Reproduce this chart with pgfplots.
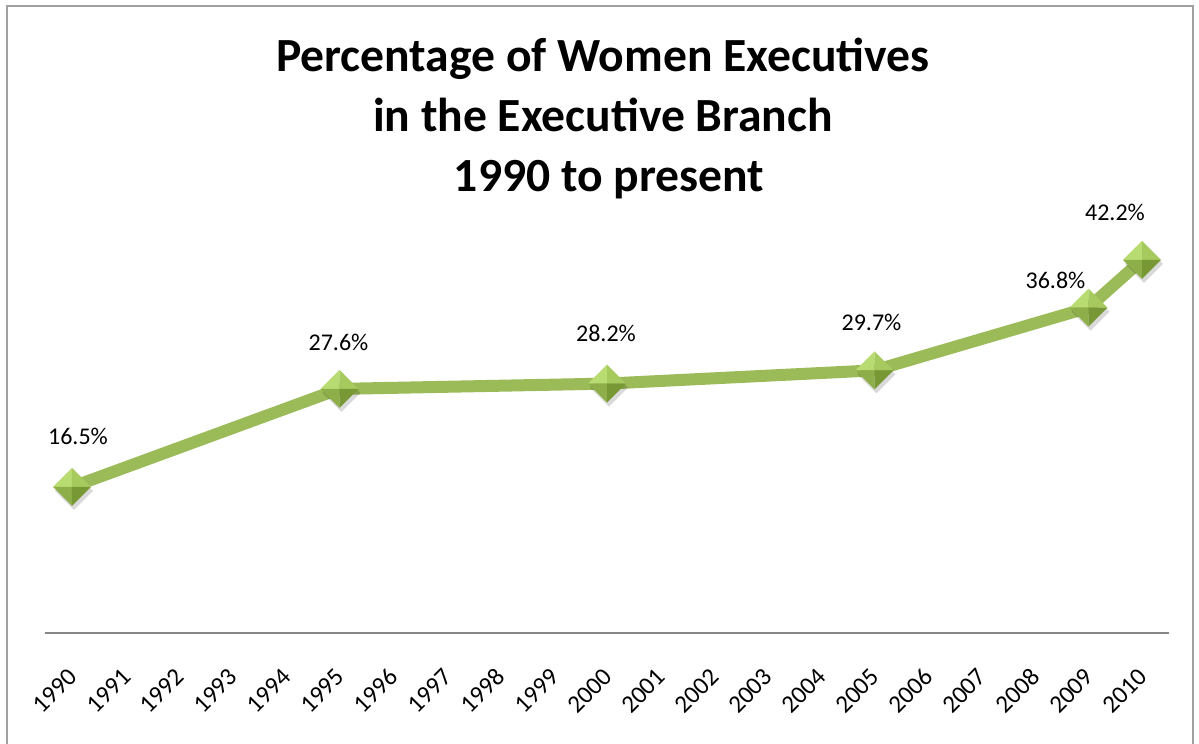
\documentclass[border=0pt]{standalone}
\usepackage{fontspec}
\setmainfont{Carlito}
\usepackage{pgfplots}
\pgfplotsset{compat=1.18}
\definecolor{lgreen}{HTML}{9BBB59}
\definecolor{axgray}{HTML}{868686}
\definecolor{framegray}{HTML}{A0A0A0}
\definecolor{fUL}{HTML}{B9DC72}
\definecolor{fUR}{HTML}{A6CA5E}
\definecolor{fLL}{HTML}{8DAE48}
\definecolor{fLR}{HTML}{789835}
\pgfdeclareplotmark{pyr}{%
  \pgfsetfillcolor{black}\pgfsetfillopacity{0.15}%
  \pgfpathmoveto{\pgfqpoint{1pt}{7.5pt}}%
  \pgfpathlineto{\pgfqpoint{10.5pt}{-2pt}}%
  \pgfpathlineto{\pgfqpoint{1pt}{-11.5pt}}%
  \pgfpathlineto{\pgfqpoint{-8.5pt}{-2pt}}%
  \pgfpathclose\pgfusepath{fill}%
  \pgfsetfillopacity{1}%
  \pgfsetfillcolor{fUL}%
  \pgfpathmoveto{\pgfqpoint{0pt}{9.5pt}}\pgfpathlineto{\pgfqpoint{-9.5pt}{0pt}}\pgfpathlineto{\pgfqpoint{0pt}{0pt}}\pgfpathclose\pgfusepath{fill}%
  \pgfsetfillcolor{fUR}%
  \pgfpathmoveto{\pgfqpoint{0pt}{9.5pt}}\pgfpathlineto{\pgfqpoint{9.5pt}{0pt}}\pgfpathlineto{\pgfqpoint{0pt}{0pt}}\pgfpathclose\pgfusepath{fill}%
  \pgfsetfillcolor{fLL}%
  \pgfpathmoveto{\pgfqpoint{0pt}{-9.5pt}}\pgfpathlineto{\pgfqpoint{-9.5pt}{0pt}}\pgfpathlineto{\pgfqpoint{0pt}{0pt}}\pgfpathclose\pgfusepath{fill}%
  \pgfsetfillcolor{fLR}%
  \pgfpathmoveto{\pgfqpoint{0pt}{-9.5pt}}\pgfpathlineto{\pgfqpoint{9.5pt}{0pt}}\pgfpathlineto{\pgfqpoint{0pt}{0pt}}\pgfpathclose\pgfusepath{fill}%
}
\begin{document}
\begin{tikzpicture}[x=0.5pt,y=0.5pt]
\useasboundingbox (0,0) rectangle (1199,-744);
\draw[framegray, line width=1pt] (7,-6) rectangle (1193,-800);
\node[anchor=base, font=\fontsize{23.8}{28}\selectfont\bfseries] at (603,-71) {Percentage of Women Executives};
\node[anchor=base, font=\fontsize{23.8}{28}\selectfont\bfseries] at (603,-131) {in the Executive Branch};
\node[anchor=base, font=\fontsize{23.8}{28}\selectfont\bfseries] at (609,-191) {1990 to present};
\begin{axis}[
  at={(22.625pt,-316.35pt)}, anchor=south west,
  scale only axis, width=561.75pt, height=198.75pt,
  xmin=-0.5, xmax=20.5, ymin=0, ymax=45,
  clip=false,
  hide y axis,
  axis x line=bottom,
  x axis line style={-, draw=axgray, line width=1pt},
  xtick={0,...,20},
  xticklabels={1990,1991,1992,1993,1994,1995,1996,1997,1998,1999,2000,2001,2002,2003,2004,2005,2006,2007,2008,2009,2010},
  major tick length=0pt,
  xticklabel style={xshift=0.5pt, yshift=-20pt, rotate=45, anchor=east, inner sep=0pt, font=\fontsize{12.5}{15}\selectfont},
  /pgf/number format/assume math mode=true,
]
\addplot[lgreen, line width=6pt, mark=pyr, mark options={solid, line width=0.4pt}] coordinates {
  (0,16.5) (5,27.6) (10,28.2) (15,29.7) (19,36.8) (20,42.2)
};
\begin{scope}[every node/.style={anchor=base, font=\fontsize{12}{15}\selectfont}]
\node[xshift=3pt, yshift=21pt] at (axis cs:0,16.5) {16.5\%};
\node[xshift=-0.5pt, yshift=19pt] at (axis cs:5,27.6) {27.6\%};
\node[xshift=-0.5pt, yshift=21pt] at (axis cs:10,28.2) {28.2\%};
\node[xshift=-1.5pt, yshift=20pt] at (axis cs:15,29.7) {29.7\%};
\node[xshift=-16.5pt, yshift=9.5pt] at (axis cs:19,36.8) {36.8\%};
\node[xshift=-13.5pt, yshift=19.5pt] at (axis cs:20,42.2) {42.2\%};
\end{scope}
\end{axis}
\end{tikzpicture}
\end{document}
